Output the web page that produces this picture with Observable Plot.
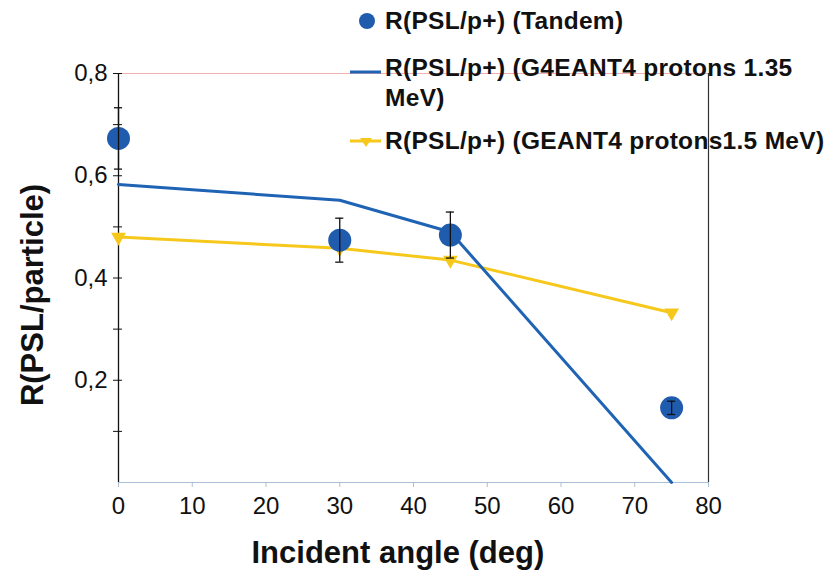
<!DOCTYPE html>
<html><head><meta charset="utf-8">
<script src="https://cdn.jsdelivr.net/npm/d3@7"></script>
<script src="https://cdn.jsdelivr.net/npm/@observablehq/plot@0.6"></script>
<style>
body{margin:0;background:#fff;}
#wrap{position:relative;width:840px;height:572px;font-family:"Liberation Sans",Arial,sans-serif;}
.leg{position:absolute;font-weight:bold;font-size:24.5px;line-height:28px;letter-spacing:0.3px;color:#111;white-space:nowrap;}
.sym{position:absolute;}
.title{position:absolute;font-weight:bold;font-size:31px;line-height:36px;color:#111;white-space:nowrap;transform-origin:center center;}
</style></head><body><div id="wrap"></div>
<script>
const tandemAngle = [0, 30, 45, 75];
const tandemValue = [0.673, 0.474, 0.484, 0.146];
const tandemError = [0.06, 0.043, 0.045, 0.013];
const g135Angle = [0, 30, 45, 75];
const g135Value = [0.583, 0.552, 0.49, 0.0];
const g15Angle = [0, 30, 45, 75];
const g15Value = [0.48, 0.458, 0.435, 0.332];
const xTicks = [0, 10, 20, 30, 40, 50, 60, 70, 80];
const yTicks = [0.2, 0.4, 0.6, 0.8];
const yMinor = [0.1, 0.3, 0.5, 0.7];
const xDomain = [0, 80];
const yDomain = [0, 0.8];
const legendLabels = ["R(PSL/p+) (Tandem)", "R(PSL/p+) (G4EANT4 protons 1.35", "MeV)", "R(PSL/p+) (GEANT4 protons1.5 MeV)"];
const xLabel = "Incident angle (deg)";
const yLabel = "R(PSL/particle)";

const BLUE = "#1f63b5", DOT = "#1f5cae", YELLOW = "#f6c81c";

const tandem = tandemAngle.map((a, i) => ({x: a, y: tandemValue[i], e: tandemError[i]}));
const g135 = g135Angle.map((a, i) => ({x: a, y: g135Value[i]}));
const g15 = g15Angle.map((a, i) => ({x: a, y: g15Value[i]}));
const fmt = d => d.toFixed(1).replace(".", ",");
const capHalf = 0.55;

const chart = Plot.plot({
  width: 840, height: 572,
  marginLeft: 118, marginRight: 132, marginTop: 73, marginBottom: 90,
  style: {fontFamily: '"Liberation Sans", Arial, sans-serif', background: "#fff", color: "#111"},
  x: {domain: xDomain, axis: null},
  y: {domain: yDomain, axis: null},
  marks: [
    Plot.ruleY([yDomain[1]], {stroke: "#f2b0b0", strokeWidth: 1}),
    Plot.ruleX([xDomain[1]], {stroke: "#333", strokeWidth: 1.2}),
    Plot.ruleY([yDomain[0]], {stroke: "#a9bfd6", strokeWidth: 1.2}),
    Plot.axisX(xTicks, {tickSize: 5, tickPadding: 9, fontSize: 24, stroke: "#a9bfd6", fill: "#111", label: null}),
    Plot.axisY(yTicks, {tickSize: 9, dx: 4, tickPadding: 6, fontSize: 24, tickFormat: fmt, stroke: "#111", fill: "#111", label: null}),
    Plot.axisY(yMinor, {tickSize: 9, dx: 4, tickFormat: () => "", stroke: "#111", label: null}),
    Plot.ruleX([xDomain[0]], {stroke: "#111", strokeWidth: 1.3}),
    Plot.line(g15, {x: "x", y: "y", stroke: YELLOW, strokeWidth: 3}),
    Plot.dot(g15, {x: "x", y: "y", symbol: "triangle", rotate: 180, r: 5.5, fill: YELLOW, stroke: "none"}),
    Plot.line(g135, {x: "x", y: "y", stroke: BLUE, strokeWidth: 3}),
    Plot.dot(tandem, {x: "x", y: "y", r: 11.5, fill: DOT, stroke: "none"}),
    Plot.ruleX(tandem, {x: "x", y1: d => d.y - d.e, y2: d => d.y + d.e, stroke: "#111", strokeWidth: 1.3}),
    Plot.ruleY(tandem, {y: d => d.y + d.e, x1: d => d.x - capHalf, x2: d => d.x + capHalf, stroke: "#111", strokeWidth: 1.3}),
    Plot.ruleY(tandem, {y: d => d.y - d.e, x1: d => d.x - capHalf, x2: d => d.x + capHalf, stroke: "#111", strokeWidth: 1.3})
  ]
});

const wrap = document.getElementById("wrap");
wrap.appendChild(chart);

function addText(txt, left, cy) {
  const d = document.createElement("div");
  d.className = "leg";
  d.textContent = txt;
  d.style.left = left + "px";
  d.style.top = (cy - 14) + "px";
  wrap.appendChild(d);
}
function addSym(html, left, top, w, h) {
  const s = document.createElement("div");
  s.className = "sym";
  s.style.left = left + "px"; s.style.top = top + "px";
  s.innerHTML = `<svg width="${w}" height="${h}">${html}</svg>`;
  wrap.appendChild(s);
}
function addTitle(txt, cx, cy, rot) {
  const d = document.createElement("div");
  d.className = "title";
  d.textContent = txt;
  wrap.appendChild(d);
  const w = d.offsetWidth, h = d.offsetHeight;
  d.style.left = (cx - w / 2) + "px";
  d.style.top = (cy - h / 2) + "px";
  if (rot) d.style.transform = `rotate(${rot}deg)`;
}
addSym(`<circle cx="9" cy="9" r="8" fill="${DOT}"/>`, 358, 12, 18, 18);
addText(legendLabels[0], 385, 21);
addSym(`<line x1="0" y1="5" x2="31" y2="5" stroke="${BLUE}" stroke-width="3"/>`, 350, 63, 32, 10);
addText(legendLabels[1], 385, 68);
addText(legendLabels[2], 385, 98);
addSym(`<line x1="0" y1="5" x2="31" y2="5" stroke="${YELLOW}" stroke-width="3"/><path d="M10,2 L22,2 L16,11 Z" fill="${YELLOW}"/>`, 350, 136, 32, 14);
addText(legendLabels[3], 385, 141);
addTitle(xLabel, 398, 553, 0);
addTitle(yLabel, 33, 295, -90);
</script></body></html>
